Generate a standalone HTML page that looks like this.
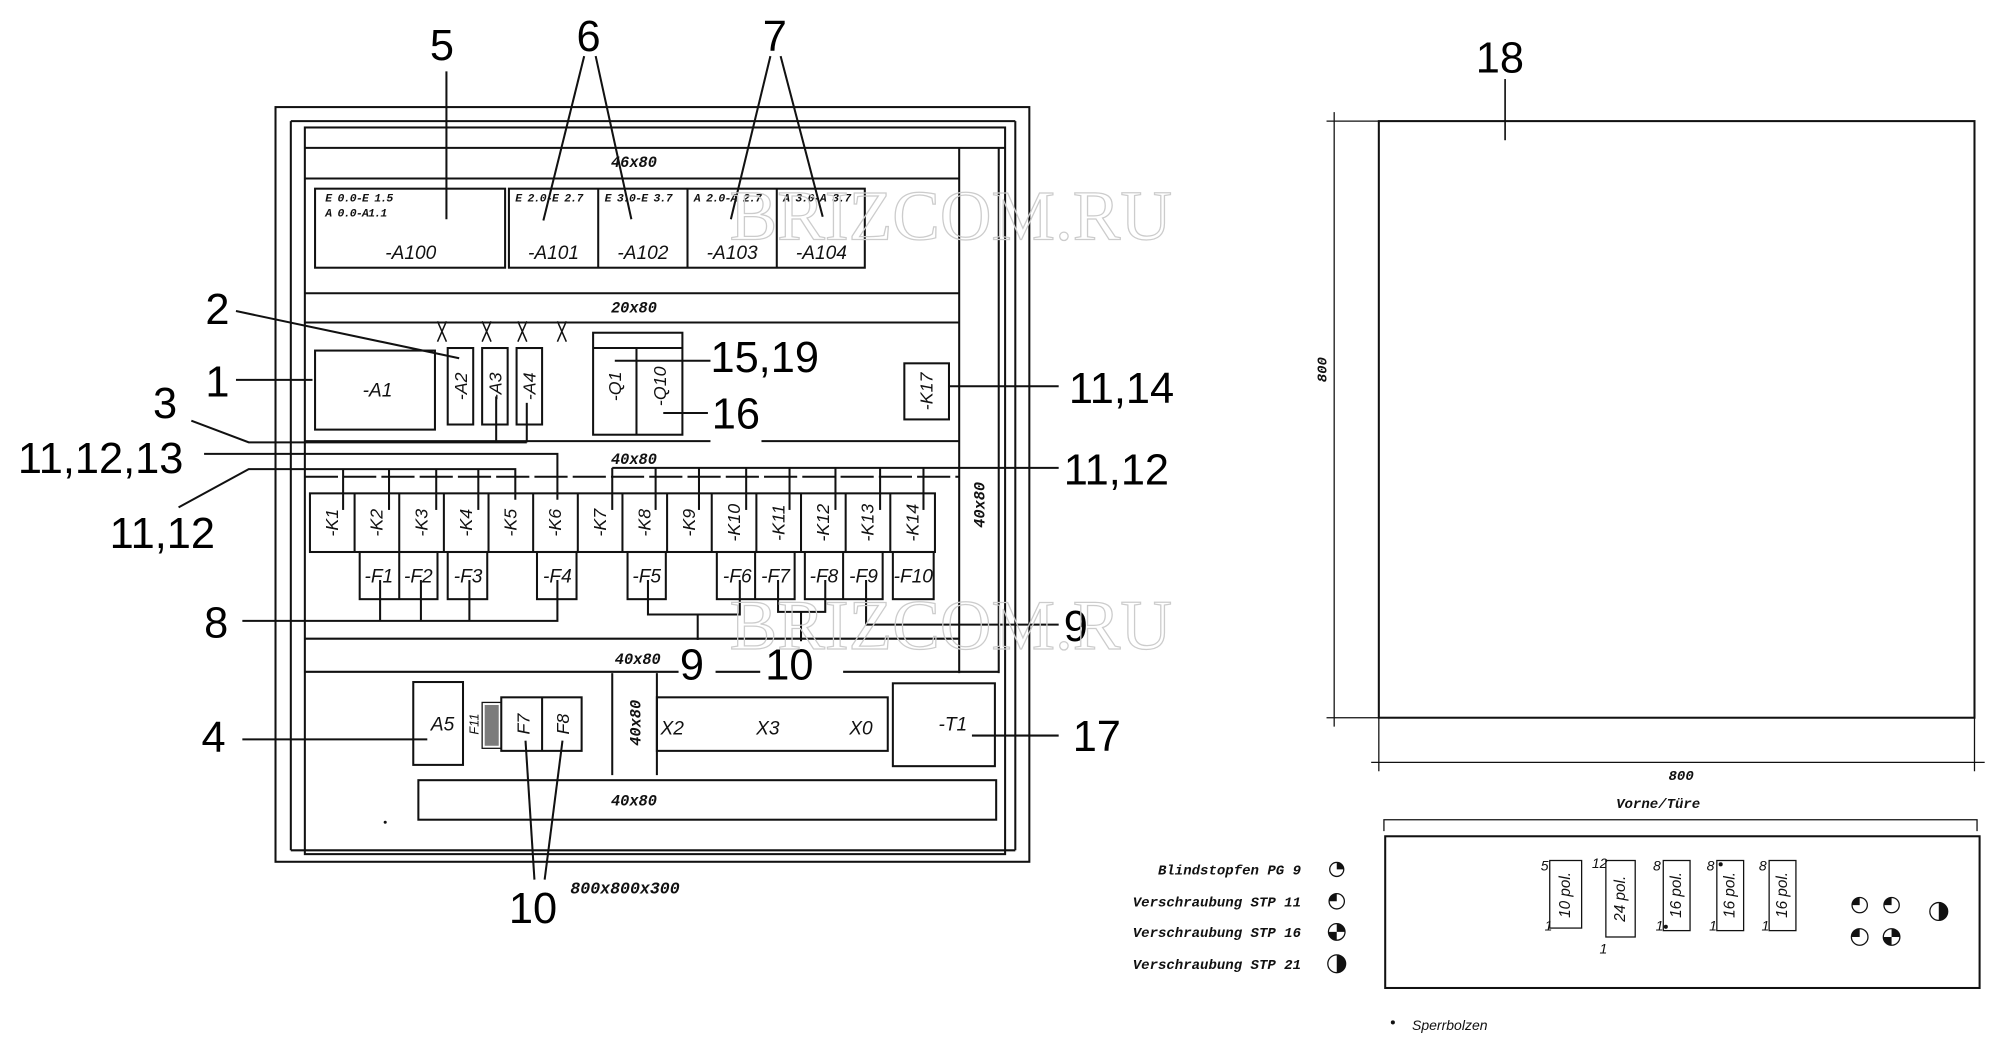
<!DOCTYPE html>
<html><head><meta charset="utf-8"><style>
html,body{margin:0;padding:0;background:#fff;}
svg{display:block;}
.t{font-family:"Liberation Sans",sans-serif;font-style:italic;fill:#111;}
.n{font-family:"Liberation Sans",sans-serif;fill:#000;}
.b{font-family:"Liberation Mono",monospace;font-weight:bold;font-style:italic;fill:#111;}
</style></head><body>
<svg width="2000" height="1053" viewBox="0 0 1568 826" preserveAspectRatio="none" xmlns="http://www.w3.org/2000/svg">
<g fill="none" stroke="#111" stroke-width="1.6">
<rect x="216" y="84" width="591" height="592"/>
<line x1="228" y1="95" x2="796" y2="95"/>
<line x1="796" y1="95" x2="796" y2="667"/>
<line x1="228" y1="95" x2="228" y2="667"/>
<line x1="228" y1="667" x2="796" y2="667"/>
<rect x="239" y="100" width="549" height="570"/>
<line x1="239" y1="116" x2="788" y2="116"/>
<line x1="239" y1="140" x2="752" y2="140"/>
<line x1="752" y1="116" x2="752" y2="528"/>
<line x1="783" y1="116" x2="783" y2="528"/>
<rect x="247" y="148" width="149" height="62"/>
<rect x="399" y="148" width="279" height="62"/>
<line x1="469" y1="148" x2="469" y2="210"/>
<line x1="539" y1="148" x2="539" y2="210"/>
<line x1="609" y1="148" x2="609" y2="210"/>
<line x1="239" y1="230" x2="752" y2="230"/>
<line x1="239" y1="253" x2="752" y2="253"/>
<rect x="247" y="275" width="94" height="62"/>
<rect x="351" y="273" width="20" height="60"/>
<rect x="378" y="273" width="20" height="60"/>
<rect x="405" y="273" width="20" height="60"/>
<rect x="465" y="261" width="70" height="80"/>
<line x1="465" y1="273" x2="535" y2="273"/>
<line x1="499" y1="273" x2="499" y2="341"/>
<rect x="709" y="285" width="35" height="44"/>
<line x1="239" y1="346" x2="557" y2="346"/>
<line x1="597" y1="346" x2="752" y2="346"/>
<g stroke-width="1.2">
<path d="M343 252 L350 268 M350 252 L343 268"/>
<path d="M378 252 L385 268 M385 252 L378 268"/>
<path d="M406 252 L413 268 M413 252 L406 268"/>
<path d="M437 252 L444 268 M444 252 L437 268"/>
</g>
<line x1="239" y1="374" x2="752" y2="374" stroke-dasharray="26 4"/>
<rect x="243" y="387" width="490" height="46"/>
<line x1="278" y1="387" x2="278" y2="433"/><line x1="313" y1="387" x2="313" y2="433"/>
<line x1="348" y1="387" x2="348" y2="433"/><line x1="383" y1="387" x2="383" y2="433"/>
<line x1="418" y1="387" x2="418" y2="433"/><line x1="453" y1="387" x2="453" y2="433"/>
<line x1="488" y1="387" x2="488" y2="433"/><line x1="523" y1="387" x2="523" y2="433"/>
<line x1="558" y1="387" x2="558" y2="433"/><line x1="593" y1="387" x2="593" y2="433"/>
<line x1="628" y1="387" x2="628" y2="433"/><line x1="663" y1="387" x2="663" y2="433"/>
<line x1="698" y1="387" x2="698" y2="433"/>
<rect x="282" y="433" width="61" height="37"/><line x1="313" y1="433" x2="313" y2="470"/>
<rect x="351" y="433" width="31" height="37"/>
<rect x="421" y="433" width="31" height="37"/>
<rect x="492" y="433" width="30" height="37"/>
<rect x="562" y="433" width="61" height="37"/><line x1="592" y1="433" x2="592" y2="470"/>
<rect x="631" y="433" width="61" height="37"/><line x1="661" y1="433" x2="661" y2="470"/>
<rect x="700" y="433" width="32" height="37"/>
<polyline points="160,356 437,356 437,392"/>
<polyline points="140,398 195,368 404,368 404,392"/>
<line x1="269" y1="368" x2="269" y2="400"/><line x1="305" y1="368" x2="305" y2="400"/>
<line x1="342" y1="368" x2="342" y2="400"/><line x1="375" y1="368" x2="375" y2="400"/>
<line x1="480" y1="367" x2="830" y2="367"/>
<line x1="480" y1="367" x2="480" y2="400"/><line x1="514" y1="367" x2="514" y2="400"/>
<line x1="548" y1="367" x2="548" y2="400"/><line x1="585" y1="367" x2="585" y2="400"/>
<line x1="619" y1="367" x2="619" y2="400"/><line x1="655" y1="367" x2="655" y2="400"/>
<line x1="690" y1="367" x2="690" y2="400"/><line x1="724" y1="367" x2="724" y2="400"/>
<polyline points="190,487 437,487 437,455"/>
<line x1="298" y1="455" x2="298" y2="487"/><line x1="330" y1="455" x2="330" y2="487"/>
<line x1="368" y1="455" x2="368" y2="487"/>
<polyline points="508,455 508,482 580,482 580,455"/>
<line x1="547" y1="482" x2="547" y2="502"/>
<polyline points="610,455 610,480 647,480 647,455"/>
<line x1="628" y1="480" x2="628" y2="503"/>
<polyline points="679,455 679,490 830,490"/>
<line x1="239" y1="501" x2="752" y2="501"/>
<line x1="239" y1="527" x2="532" y2="527"/>
<line x1="561" y1="527" x2="596" y2="527"/>
<line x1="661" y1="527" x2="783" y2="527"/>
<rect x="324" y="535" width="39" height="65"/>
<rect x="393" y="547" width="63" height="42"/><line x1="425" y1="547" x2="425" y2="589"/>
<rect x="378" y="551" width="15" height="36" stroke-width="1"/>
<line x1="480" y1="528" x2="480" y2="608"/><line x1="515" y1="528" x2="515" y2="608"/>
<rect x="515" y="547" width="181" height="42"/>
<rect x="700" y="536" width="80" height="65"/>
<rect x="328" y="612" width="453" height="31"/>
<line x1="190" y1="580" x2="335" y2="580"/>
<line x1="762" y1="577" x2="830" y2="577"/>
<line x1="412" y1="581" x2="419" y2="690"/>
<line x1="441" y1="581" x2="427" y2="690"/>
<line x1="350" y1="56" x2="350" y2="172"/>
<line x1="458" y1="44" x2="426" y2="173"/>
<line x1="467" y1="44" x2="495" y2="172"/>
<line x1="604" y1="44" x2="573" y2="172"/>
<line x1="612" y1="44" x2="645" y2="170"/>
<line x1="185" y1="244" x2="360" y2="281"/>
<line x1="185" y1="298" x2="245" y2="298"/>
<polyline points="150,330 195,347 413,347"/>
<line x1="389" y1="311" x2="389" y2="347"/>
<line x1="413" y1="316" x2="413" y2="347"/>
<line x1="482" y1="283" x2="557" y2="283"/>
<line x1="520" y1="324" x2="555" y2="324"/>
<line x1="744" y1="303" x2="830" y2="303"/>
<rect x="1081" y="95" width="467" height="468"/>
<line x1="1046" y1="88" x2="1046" y2="570" stroke-width="1"/>
<line x1="1040" y1="95" x2="1081" y2="95" stroke-width="1"/>
<line x1="1040" y1="563" x2="1081" y2="563" stroke-width="1"/>
<line x1="1075" y1="598" x2="1556" y2="598" stroke-width="1"/>
<line x1="1081" y1="563" x2="1081" y2="605" stroke-width="1"/>
<line x1="1548" y1="563" x2="1548" y2="605" stroke-width="1"/>
<line x1="1180" y1="62" x2="1180" y2="110" stroke-width="1.3"/>
<polyline points="1085,652 1085,643 1550,643 1550,652" stroke-width="1"/>
<rect x="1086" y="656" width="466" height="119"/>
<g stroke-width="1">
<rect x="1215" y="675" width="25" height="53"/>
<rect x="1259" y="675" width="23" height="60"/>
<rect x="1304" y="675" width="21" height="55"/>
<rect x="1346" y="675" width="21" height="55"/>
<rect x="1387" y="675" width="21" height="55"/>
<circle cx="1048" cy="682" r="5.5"/><circle cx="1048" cy="707" r="6"/>
<circle cx="1048" cy="731" r="6.5"/><circle cx="1048" cy="756" r="7"/>
<circle cx="1458" cy="710" r="6"/><circle cx="1483" cy="710" r="6"/>
<circle cx="1458" cy="735" r="6.5"/><circle cx="1483" cy="735" r="6.5"/>
<circle cx="1520" cy="715" r="7"/>
</g>
</g>
<g fill="#111">
<path d="M1048 682 L1048 676.5 A5.5 5.5 0 0 1 1053.5 682 Z"/>
<path d="M1048 707 L1042 707 A6 6 0 0 1 1048 701 Z"/>
<path d="M1048 731 L1048 724.5 A6.5 6.5 0 0 1 1054.5 731 Z M1048 731 L1041.5 731 A6.5 6.5 0 0 0 1048 737.5 Z"/>
<path d="M1048 749 A7 7 0 0 1 1048 763 Z"/>
<path d="M1458 710 L1452 710 A6 6 0 0 1 1458 704 Z"/>
<path d="M1483 710 L1477 710 A6 6 0 0 1 1483 704 Z"/>
<path d="M1458 735 L1451.5 735 A6.5 6.5 0 0 1 1458 728.5 Z"/>
<path d="M1483 735 L1483 728.5 A6.5 6.5 0 0 1 1489.5 735 Z M1483 735 L1476.5 735 A6.5 6.5 0 0 0 1483 741.5 Z"/>
<path d="M1520 708 A7 7 0 0 1 1520 722 Z"/>
<circle cx="1306" cy="727" r="1.6"/><circle cx="1349" cy="678" r="1.6"/>
<circle cx="1092" cy="802" r="1.6"/><circle cx="302" cy="645" r="1.2"/>
<rect x="380" y="553" width="11" height="32" opacity="0.55"/>
</g>
<g class="b" font-size="12" text-anchor="middle">
<text x="497" y="131">46x80</text>
<text x="497" y="245">20x80</text>
<text x="497" y="364">40x80</text>
<text x="500" y="521">40x80</text>
<text x="497" y="632">40x80</text>
<text transform="translate(772 396) rotate(-90)">40x80</text>
<text transform="translate(502 567) rotate(-90)">40x80</text>
<text transform="translate(1040 290) rotate(-90)" font-size="11">800</text>
<text x="1318" y="612" font-size="11">800</text>
<text x="1300" y="634" font-size="11">Vorne/Türe</text>
<text x="490" y="701" font-size="13">800x800x300</text>
</g>
<g class="b" font-size="9" letter-spacing="-0.6">
<text x="255" y="158">E 0.0-E 1.5</text>
<text x="255" y="170">A 0.0-A1.1</text>
<text x="404" y="158">E 2.0-E 2.7</text>
<text x="474" y="158">E 3.0-E 3.7</text>
<text x="544" y="158">A 2.0-A 2.7</text>
<text x="614" y="158">A 3.0-A 3.7</text>
</g>
<g class="b" font-size="11" text-anchor="end">
<text x="1020" y="686">Blindstopfen PG 9</text>
<text x="1020" y="711">Verschraubung STP 11</text>
<text x="1020" y="735">Verschraubung STP 16</text>
<text x="1020" y="760">Verschraubung STP 21</text>
</g>
<text class="t" x="1107" y="808" font-size="11">Sperrbolzen</text>
<g class="t" font-size="15" text-anchor="middle">
<text x="322" y="203">-A100</text><text x="434" y="203">-A101</text><text x="504" y="203">-A102</text>
<text x="574" y="203">-A103</text><text x="644" y="203">-A104</text>
<text x="296" y="311">-A1</text>
<text x="347" y="573">A5</text>
<text x="527" y="576">X2</text><text x="602" y="576">X3</text><text x="675" y="576">X0</text>
<text x="747" y="573">-T1</text>
<text x="297" y="457">-F1</text><text x="328" y="457">-F2</text><text x="367" y="457">-F3</text>
<text x="437" y="457">-F4</text><text x="507" y="457">-F5</text><text x="578" y="457">-F6</text>
<text x="608" y="457">-F7</text><text x="646" y="457">-F8</text><text x="677" y="457">-F9</text>
<text x="716" y="457">-F10</text>
</g>
<g class="t" font-size="14" text-anchor="middle">
<text transform="translate(366 303) rotate(-90)">-A2</text>
<text transform="translate(393 303) rotate(-90)">-A3</text>
<text transform="translate(420 303) rotate(-90)">-A4</text>
<text transform="translate(487 303) rotate(-90)">-Q1</text>
<text transform="translate(522 303) rotate(-90)">-Q10</text>
<text transform="translate(731 307) rotate(-90)">-K17</text>
<text transform="translate(415 568) rotate(-90)">F7</text>
<text transform="translate(446 568) rotate(-90)">F8</text>
<text transform="translate(375 568) rotate(-90)" font-size="10">F11</text>
<text transform="translate(265 410) rotate(-90)">-K1</text>
<text transform="translate(300 410) rotate(-90)">-K2</text>
<text transform="translate(335 410) rotate(-90)">-K3</text>
<text transform="translate(370 410) rotate(-90)">-K4</text>
<text transform="translate(405 410) rotate(-90)">-K5</text>
<text transform="translate(440 410) rotate(-90)">-K6</text>
<text transform="translate(475 410) rotate(-90)">-K7</text>
<text transform="translate(510 410) rotate(-90)">-K8</text>
<text transform="translate(545 410) rotate(-90)">-K9</text>
<text transform="translate(580 410) rotate(-90)">-K10</text>
<text transform="translate(615 410) rotate(-90)">-K11</text>
<text transform="translate(650 410) rotate(-90)">-K12</text>
<text transform="translate(685 410) rotate(-90)">-K13</text>
<text transform="translate(720 410) rotate(-90)">-K14</text>
<text transform="translate(1231 702) rotate(-90)" font-size="12">10 pol.</text>
<text transform="translate(1274 705) rotate(-90)" font-size="12">24 pol.</text>
<text transform="translate(1318 702) rotate(-90)" font-size="12">16 pol.</text>
<text transform="translate(1360 702) rotate(-90)" font-size="12">16 pol.</text>
<text transform="translate(1401 702) rotate(-90)" font-size="12">16 pol.</text>
</g>
<g class="t" font-size="11">
<text x="1208" y="683">5</text><text x="1248" y="681">12</text><text x="1296" y="683">8</text>
<text x="1338" y="683">8</text><text x="1379" y="683">8</text>
<text x="1211" y="730">1</text><text x="1254" y="748">1</text><text x="1298" y="730">1</text>
<text x="1340" y="730">1</text><text x="1381" y="730">1</text>
</g>
<g class="n" font-size="34">
<text x="337" y="47">5</text><text x="452" y="40">6</text><text x="598" y="40">7</text>
<text x="1157" y="57">18</text>
<text x="161" y="254">2</text><text x="161" y="311">1</text><text x="120" y="328">3</text>
<text x="14" y="371">11,12,13</text><text x="86" y="430">11,12</text>
<text x="557" y="292">15,19</text><text x="558" y="336">16</text>
<text x="838" y="316">11,14</text><text x="834" y="380">11,12</text>
<text x="160" y="500">8</text><text x="834" y="503">9</text>
<text x="533" y="533">9</text><text x="600" y="533">10</text>
<text x="158" y="590">4</text><text x="841" y="589">17</text>
<text x="399" y="724">10</text>
</g>
<g font-family="'Liberation Serif',serif" font-size="56" fill="none" stroke="#ccc" stroke-width="1">
<text x="572" y="188">BRIZCOM.RU</text>
<text x="572" y="509">BRIZCOM.RU</text>
</g>
</svg>
</body></html>
